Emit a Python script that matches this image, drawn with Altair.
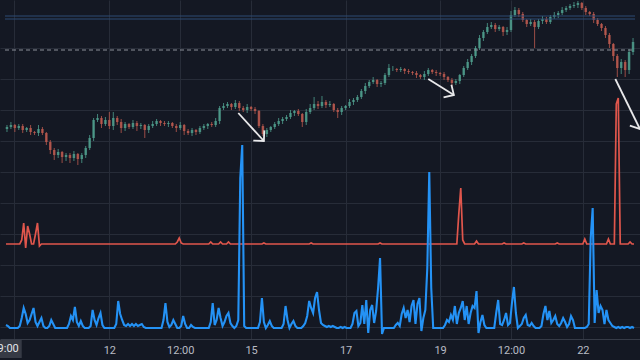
import math
import numpy as np
import pandas as pd
import altair as alt

# ---------------- data ----------------
closes = [213,215,212,214,210,212,208,207,211,207,
          198,190,185,188,183,185,182,186,181,185,
          192,202,220,222,216,220,214,222,218,212,
          216,213,217,214,215,210,214,216,219,217,
          216,217,214,212,215,209,207,210,208,212,
          214,216,215,219,232,234,236,233,237,232,
          230,233,231,229,214,206,210,213,216,219,
          221,223,227,229,226,218,228,232,236,234,
          238,235,236,230,228,232,234,238,240,243,
          249,254,258,260,256,257,265,272,272,270,
          271,269,268,267,265,263,266,270,268,267,
          266,263,260,257,259,265,272,278,284,292,
          302,308,313,315,311,313,308,310,325,330,
          326,320,316,318,313,319,321,318,323,325,
          327,330,332,334,335,337,332,328,326,320,
          316,312,305,296,284,272,278,270,288,298]

opens = [211,213,215,212,214,210,212,208,207,211,
         207,198,190,185,188,183,185,182,186,181,
         185,192,202,220,222,216,220,214,222,218,
         212,216,213,217,214,215,210,214,216,219,
         217,216,217,214,212,215,209,207,210,208,
         212,214,216,215,219,232,234,236,233,237,
         232,230,233,231,229,214,206,210,213,216,
         219,221,223,227,229,226,218,228,232,236,
         234,238,235,236,230,228,232,234,238,240,
         243,249,254,258,260,256,257,265,272,271,
         270,271,269,268,267,265,263,266,270,268,
         267,266,263,260,257,259,265,272,278,284,
         292,302,308,313,315,311,313,308,310,325,
         330,326,320,316,318,313,319,321,318,323,
         325,327,330,332,334,335,337,332,328,326,
         320,316,312,305,296,284,272,278,270,288]

upper_wick = [2,3,1,2,2,1,3,1,4,2, 1,2,2,3,1,2,2,3,1,2,
              2,3,2,4,2,3,8,6,2,3, 2,1,3,2,2,1,2,3,2,1,
              2,2,1,2,3,1,2,2,1,2, 2,1,2,3,2,3,2,1,3,2,
              2,3,1,2,1,2,2,1,2,3, 2,2,3,1,2,1,3,4,7,3,
              6,2,3,1,2,2,1,3,2,2, 2,3,2,3,1,2,2,4,2,1,
              2,1,2,1,2,1,3,2,1,2, 1,2,1,2,2,1,2,3,2,2,
              3,2,4,3,2,2,1,3,4,3, 2,2,1,3,2,2,3,2,2,3,
              2,3,2,2,3,2,1,2,1,2, 2,1,2,2,1,2,3,2,3,4]

lower_wick = [3,2,4,2,3,2,3,2,3,2, 3,4,5,3,6,4,5,3,6,4,
              3,2,3,2,4,2,3,4,3,5, 3,2,2,5,3,8,3,2,2,3,
              2,3,2,4,2,4,2,3,3,2, 2,3,2,2,3,2,2,3,2,3,
              2,3,2,3,2,2,3,2,2,2, 3,2,2,3,2,5,3,2,2,3,
              2,3,2,2,6,3,2,2,3,2, 2,3,2,2,3,3,2,2,3,2,
              2,3,2,2,3,2,3,2,2,3, 2,3,2,3,2,3,2,2,3,2,
              2,3,2,2,3,2,4,3,2,2, 3,2,3,2,21,2,3,2,2,2,
              3,2,2,2,2,3,2,3,2,3, 2,3,3,4,5,9,6,7,4,3]

red_vals = [0,0,0,0,0,0,0,0,4,21,-4,18,10,0,0,10,21,-2,0,0,
            0,0,0,0,0,0,0,0,0,0,0,0,0,0,0,0,0,0,0,0,
            0,0,0,0,0,0,0,0,0,0,0,0,0,0,0,0,0,0,0,0,
            0,0,0,0,0,0,0,0,0,0,0,0,0,0,0,0,0,0,0,0,
            0,0,0,0,0,0,0,2,6,1,0,0,0,0,0,0,0,0,0,0,
            0,0,0,0,2,0,0,0,0,2,0,0,0,2,0,0,0,0,0,0,
            0,0,0,0,0,0,0,0,0,0,0,1,0,0,0,0,0,0,0,0,
            0,0,0,0,0,0,0,0,0,0,0,0,0,0,0,1,0,0,0,0,
            0,0,0,0,0,0,0,0,0,0,0,0,0,0,0,0,0,0,0,0,
            0,0,0,0,0,0,0,0,0,0,1,0,0,0,0,0,0,0,0,0,
            0,0,0,0,0,0,0,0,0,0,0,0,0,0,0,0,0,0,0,0,
            0,0,0,0,0,0,0,0,0,0,30,56,4,0,0,0,0,0,0,3,
            0,0,0,0,0,0,0,0,0,0,0,0,0,1,0,0,0,0,0,0,
            0,0,0,1,0,0,0,0,0,0,0,0,0,0,0,0,0,0,0,0,
            1,0,0,0,0,0,0,0,0,0,0,0,0,0,5,0,0,0,0,0,
            0,0,0,0,0,0,5,0,0,0,140,146,0,0,0,0,0,2,0,0]

blue_vals = [3,2,0,0,0,0,0,2,10,20,14,5,8,14,20,6,2,6,10,2,
             0,0,2,8,4,0,0,0,0,0,0,0,4,12,8,21,6,2,7,2,
             0,0,0,2,18,8,3,10,15,3,0,0,0,0,0,0,4,27,14,8,
             3,2,4,2,4,2,4,2,3,4,1,0,0,0,0,0,0,0,0,0,
             8,25,6,1,3,8,4,0,0,2,12,4,0,0,3,1,0,0,0,0,
             0,0,0,0,6,25,3,8,20,10,2,6,12,15,5,2,0,2,8,150,
             183,2,0,0,0,0,0,0,0,6,30,6,0,3,7,2,0,0,0,0,
             0,4,22,8,0,4,7,2,0,0,0,2,5,12,27,20,15,30,36,18,
             5,3,2,1,2,1,2,1,0,0,1,0,1,0,0,0,4,15,17,2,
             5,23,4,28,-5,18,23,5,17,40,70,-6,0,0,0,0,0,0,3,5,
             2,14,20,10,18,6,22,28,4,24,30,-3,10,18,60,156,40,0,0,0,
             0,0,0,3,8,6,13,8,22,4,15,20,27,8,22,4,15,22,20,37,
             -5,6,13,3,0,0,0,0,0,15,28,4,3,8,15,3,5,25,41,15,
             0,2,4,10,13,3,2,5,2,0,0,0,2,14,22,8,17,5,8,12,
             4,2,5,10,6,1,4,12,8,0,0,0,0,0,0,1,4,90,120,5,
             38,15,22,18,4,18,8,5,2,1,0,1,0,1,0,1,1,0,1,0]

tick_pos = [1.75, 26, 44, 62, 86, 110, 128, 146.25]
tick_lbl = ["09:00", "12", "12:00", "15", "17", "19", "12:00", "22"]
cursor_label = "09:00"
grid_prices = [292, 261, 230, 199, 168, 137, 106, 75, 44, 13]
dashed_price = [290]
level_prices = [324, 321]

arrow_x0 = [58.75, 107.0, 154.5]
arrow_p0 = [227, 261, 261]
arrow_x1 = [65.25, 113.5, 160.75]
arrow_p1 = [199, 245, 211]

# ---------------- layout / styles ----------------
W, H = 640, 339
N = len(closes)
X_DOM = [-0.5, N - 0.5]
P_DOM = [1, 340]
R_DOM = [-95, 244]
B_DOM = [-11, 328]

BG = "#141823"
GRID = "#272c38"
UP = "#4f9f8e"
DOWN = "#bd5a4f"

xscale = alt.Scale(domain=X_DOM, nice=False, zero=False)
pscale = alt.Scale(domain=P_DOM, nice=False, zero=False)

label_expr = "''"
for p, l in reversed(list(zip(tick_pos, tick_lbl))):
    if l == cursor_label and p == tick_pos[0]:
        continue
    label_expr = f"datum.value == {p} ? '{l}' : ({label_expr})"

xaxis = alt.Axis(values=tick_pos, labelExpr=label_expr, grid=True, gridColor=GRID,
                 gridWidth=1, domain=True, domainColor="#363b47", ticks=False,
                 labelColor="#b8bbc4", labelFont="Roboto", labelFontSize=11,
                 labelPadding=5, labelOverlap=False, labelFlush=False, title=None)
yaxis = alt.Axis(values=grid_prices, grid=True, gridColor=GRID, labels=False,
                 ticks=False, domain=False, title=None)


def X(field):
    return alt.X(f"{field}:Q", scale=xscale, axis=xaxis)


def Y(field, scale, axis=None):
    return alt.Y(f"{field}:Q", scale=scale, axis=axis)


# candles
hi = [max(o, c) + u for o, c, u in zip(opens, closes, upper_wick)]
lo = [min(o, c) - w for o, c, w in zip(opens, closes, lower_wick)]
cdf = pd.DataFrame({
    "i": np.arange(N), "open": opens, "close": closes, "high": hi, "low": lo,
    "dir": ["up" if c >= o else "down" for o, c in zip(opens, closes)],
})
color = alt.Color("dir:N", scale=alt.Scale(domain=["up", "down"], range=[UP, DOWN]), legend=None)

wicks = alt.Chart(cdf).mark_rule(strokeWidth=1, opacity=0.8).encode(
    x=X("i"), y=Y("low", pscale, yaxis), y2="high:Q", color=color)
bodies = alt.Chart(cdf).mark_bar(size=2.5, opacity=0.82).encode(
    x=X("i"), y=Y("open", pscale), y2="close:Q", color=color)

# level lines
lvl = alt.Chart(pd.DataFrame({"p": level_prices, "x0": [X_DOM[0]] * 2, "x1": [X_DOM[1]] * 2})).mark_rule(
    color="#2d4a75", strokeWidth=1).encode(x=X("x0"), x2="x1:Q", y=Y("p", pscale))
dash = alt.Chart(pd.DataFrame({"p": dashed_price, "x0": [X_DOM[0]], "x1": [X_DOM[1]]})).mark_rule(
    color="#8c909a", strokeWidth=1, strokeDash=[4, 3]).encode(x=X("x0"), x2="x1:Q", y=Y("p", pscale))

# arrows
px_per_x = W / (X_DOM[1] - X_DOM[0])
px_per_p = H / (P_DOM[1] - P_DOM[0])
angles = [math.degrees(math.atan2(-(p1 - p0) * px_per_p, (x1 - x0) * px_per_x)) % 360
          for x0, p0, x1, p1 in zip(arrow_x0, arrow_p0, arrow_x1, arrow_p1)]
adf = pd.DataFrame({"x0": arrow_x0, "p0": arrow_p0, "x1": arrow_x1, "p1": arrow_p1, "ang": angles})
arrow_lines = alt.Chart(adf).mark_rule(color="#e8e8ea", strokeWidth=1.8).encode(
    x=X("x0"), x2="x1:Q", y=Y("p0", pscale), y2="p1:Q")
arrow_heads = alt.Chart(adf).mark_point(shape="M-1,-1L0,0L-1,1", filled=False, size=225,
                                        color="#e8e8ea", strokeWidth=1.8, opacity=1).encode(
    x=X("x1"), y=Y("p1", pscale), angle=alt.Angle("ang:Q", scale=None))

# indicator lines
M = len(red_vals)
ldf = pd.DataFrame({"pos": np.arange(M) / 2 - 0.25, "red": red_vals, "blue": blue_vals})
red_line = alt.Chart(ldf).mark_line(color="#e0564c", strokeWidth=1.7).encode(
    x=X("pos"), y=Y("red", alt.Scale(domain=R_DOM, nice=False, zero=False)))
blue_line = alt.Chart(ldf).mark_line(color="#2492f5", strokeWidth=2.1).encode(
    x=X("pos"), y=Y("blue", alt.Scale(domain=B_DOM, nice=False, zero=False)))

# cursor time label box on the axis
cur = pd.DataFrame({"bx0": [-5.0], "bx1": [3.75], "tx": [3.0], "t": [cursor_label]})
cur_box = alt.Chart(cur).mark_rect(color="#363a45").encode(
    x=X("bx0"), x2="bx1:Q", y=alt.value(340), y2=alt.value(358))
cur_txt = alt.Chart(cur).mark_text(align="right", baseline="middle", color="#e3e5ea",
                                   font="Roboto", fontSize=11).encode(
    x=X("tx"), y=alt.value(349), text="t:N")

chart = alt.layer(
    wicks, bodies, lvl, dash, arrow_lines, arrow_heads, red_line, blue_line, cur_box, cur_txt
).resolve_scale(y="independent").properties(
    width=W, height=H, background=BG,
    padding={"left": 0, "top": 0, "right": 0, "bottom": 21},
    autosize=alt.AutoSizeParams(type="none"),
).configure_view(stroke=None)

chart.save("out.html", embed_options={"renderer": "svg", "actions": False})
